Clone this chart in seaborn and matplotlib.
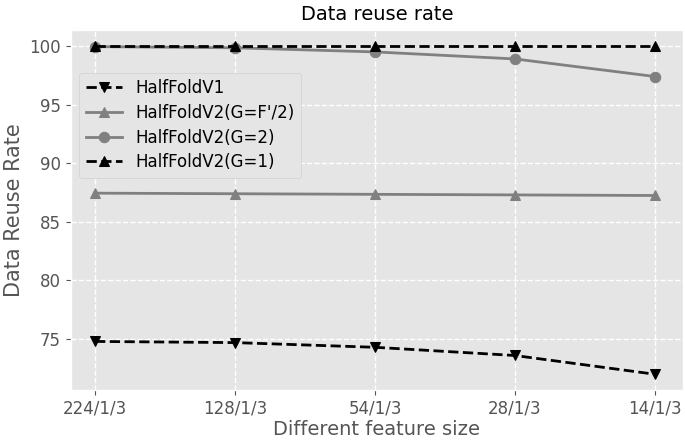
import pandas as pd
import seaborn as sns
import matplotlib.pyplot as plt

sizes = ["224/1/3", "128/1/3", "54/1/3", "28/1/3", "14/1/3"]
halffold_v1 = [74.8, 74.7, 74.3, 73.6, 72.0]
halffold_v2_half = [87.45, 87.4, 87.35, 87.3, 87.25]
halffold_v2_g2 = [99.95, 99.85, 99.5, 98.9, 97.4]
halffold_v2_g1 = [100.0, 100.0, 100.0, 100.0, 100.0]

series = {
    "HalfFoldV1": halffold_v1,
    "HalfFoldV2(G=F'/2)": halffold_v2_half,
    "HalfFoldV2(G=2)": halffold_v2_g2,
    "HalfFoldV2(G=1)": halffold_v2_g1,
}
styles = {
    "HalfFoldV1": dict(color="black", ls="--", marker="v"),
    "HalfFoldV2(G=F'/2)": dict(color="gray", ls="-", marker="^"),
    "HalfFoldV2(G=2)": dict(color="gray", ls="-", marker="o"),
    "HalfFoldV2(G=1)": dict(color="black", ls="--", marker="^"),
}

plt.style.use("ggplot")
plt.rcParams["font.family"] = ["DejaVu Sans"]

fig, ax = plt.subplots(figsize=(6.85, 4.41), dpi=100)
for name, vals in series.items():
    df = pd.DataFrame({"size": sizes, "rate": vals})
    st = styles[name]
    sns.lineplot(data=df, x="size", y="rate", ax=ax, color=st["color"],
                 linestyle=st["ls"], marker=st["marker"], markersize=7.5,
                 markeredgecolor=st["color"], linewidth=2, label=name)

ax.grid(True, color="white", linestyle="--", linewidth=1)
ax.set_xlim(-0.175, 4.2)
ax.set_ylim(70.67, 101.37)
ax.set_title("Data reuse rate", fontsize=14, color="black", pad=7)
ax.set_xlabel("Different feature size", fontsize=14, color="#555555", labelpad=2)
ax.set_ylabel("Data Reuse Rate", fontsize=15, color="#555555", labelpad=4)
ax.tick_params(labelsize=12, colors="#555555")
ax.legend(loc="upper left", bbox_to_anchor=(0.0, 0.905), fontsize=12,
          handlelength=2.2, labelspacing=0.4, facecolor="#e5e5e5",
          edgecolor="#d0d0d0", framealpha=1)

fig.subplots_adjust(left=0.103, right=0.997, top=0.932, bottom=0.116)
fig.savefig("out.png", dpi=100)
